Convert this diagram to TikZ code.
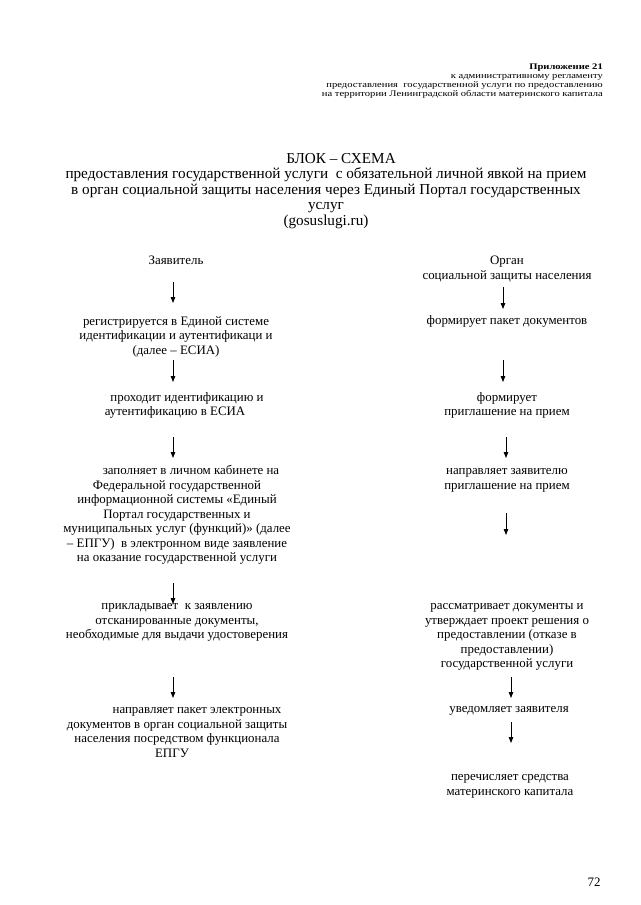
\documentclass[tikz,border=0pt]{standalone}
\usepackage{fontspec}
\setmainfont{Liberation Serif}
\newfontfamily\hdrfont[FakeStretch=1.23]{Liberation Serif}
\usetikzlibrary{arrows.meta}
\tikzset{
  body/.style={inner sep=0pt, align=center, font=\fontsize{12.9}{14.5}\selectfont},
  ttl/.style={inner sep=0pt, align=center, font=\fontsize{15.2}{15.5}\selectfont},
  hdr/.style={inner sep=0pt, align=right, font=\hdrfont\fontsize{8.6}{9}\selectfont},
  arr/.style={line width=0.8pt, -{Triangle[length=6pt,width=4.5pt]}}
}
\begin{document}
\begin{tikzpicture}[x=1pt,y=-1pt]
\useasboundingbox (0,0) rectangle (640,905);
% header (anchor base = last line)
\node[hdr, anchor=base east] (hdr) at (603,96) {\textbf{Приложение 21}\\к административному регламенту\\предоставления\ \ государственной услуги по предоставлению\\на территории Ленинградской области материнского капитала};
% title
\node[ttl, anchor=base] (title) at (326,225) {\hspace*{30pt}БЛОК – СХЕМА\\предоставления государственной услуги\ \ с обязательной личной явкой на прием\\в орган социальной защиты населения через Единый Портал государственных\\услуг\\(gosuslugi.ru)};
% left column
\node[body, anchor=base] (l0) at (176,264) {Заявитель};
\node[body, anchor=base] (l1) at (176,354) {регистрируется в Единой системе\\идентификации и аутентификаци и\\(далее – ЕСИА)};
\node[body, anchor=base] (l2) at (175,415.5) {\hspace*{24pt}проходит идентификацию и\\аутентификацию в ЕСИА};
\node[body, anchor=base] (l3) at (177,561.5) {\hspace*{28pt}заполняет в личном кабинете на\\Федеральной государственной\\информационной системы «Единый\\Портал государственных и\\муниципальных услуг (функций)» (далее\\– ЕПГУ)\ \ в электронном виде заявление\\на оказание государственной услуги};
\node[body, anchor=base] (l4) at (177,638.5) {прикладывает\ \ к заявлению\\отсканированные документы,\\необходимые для выдачи удостоверения};
\node[body, anchor=base] (l5) at (177,757) {\hspace*{40pt}направляет пакет электронных\\документов в орган социальной защиты\\населения посредством функционала\\ЕПГУ\hspace*{10pt}};
% right column
\node[body, anchor=base] (r0) at (507,279) {Орган\\социальной защиты населения};
\node[body, anchor=base] (r1) at (507,324.5) {формирует пакет документов};
\node[body, anchor=base] (r2) at (507,415.5) {формирует\\приглашение на прием};
\node[body, anchor=base] (r3) at (507,489) {направляет заявителю\\приглашение на прием};
\node[body, anchor=base] (r4) at (507,667.5) {рассматривает документы и\\утверждает проект решения о\\предоставлении (отказе в\\предоставлении)\\государственной услуги};
\node[body, anchor=base] (r5) at (509,712.5) {уведомляет заявителя};
\node[body, anchor=base] (r6) at (510,795) {перечисляет средства\\материнского капитала};
% page number
\node[body, anchor=base] (pg) at (594,886) {72};
% arrows left
\coordinate (la1) at (173,282); \coordinate (lb1) at (173,303);
\coordinate (la2) at (173,360); \coordinate (lb2) at (173,382);
\coordinate (la3) at (173,437); \coordinate (lb3) at (173,458);
\coordinate (la4) at (173,583); \coordinate (lb4) at (173,604);
\coordinate (la5) at (173,677); \coordinate (lb5) at (173,698);
\foreach \i in {1,...,5} {\draw[arr] (la\i) -- (lb\i);}
% arrows right
\coordinate (ra1) at (503,287); \coordinate (rb1) at (503,309);
\coordinate (ra2) at (503,360); \coordinate (rb2) at (503,382);
\coordinate (ra3) at (506,437); \coordinate (rb3) at (506,458);
\coordinate (ra4) at (506,513); \coordinate (rb4) at (506,535);
\coordinate (ra5) at (511,677); \coordinate (rb5) at (511,698);
\coordinate (ra6) at (511,722); \coordinate (rb6) at (511,743);
\foreach \i in {1,...,6} {\draw[arr] (ra\i) -- (rb\i);}
\end{tikzpicture}
\end{document}
